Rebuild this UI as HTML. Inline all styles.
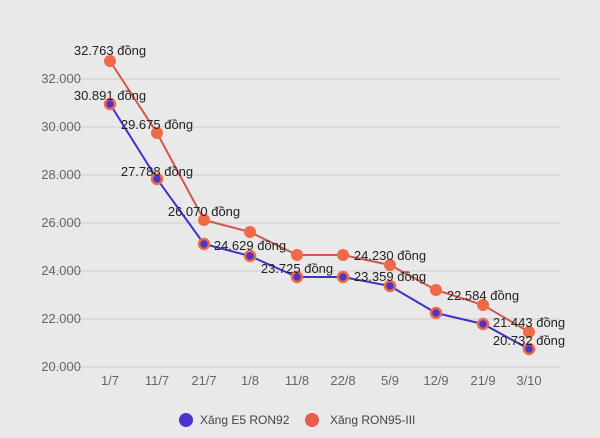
<!DOCTYPE html><html><head><meta charset="utf-8"><style>body{margin:0;background:#eae9ea}svg{display:block;font-family:"Liberation Sans",sans-serif}</style></head><body>
<svg width="600" height="438" viewBox="0 0 600 438">
<rect width="600" height="438" fill="#eae9ea"/>
<g stroke="#cfcfcf" stroke-width="1">
<line x1="42" x2="560" y1="79" y2="79"/><line x1="42" x2="560" y1="127" y2="127"/><line x1="42" x2="560" y1="175" y2="175"/><line x1="42" x2="560" y1="223" y2="223"/><line x1="42" x2="560" y1="271" y2="271"/><line x1="42" x2="560" y1="319" y2="319"/><line x1="42" x2="560" y1="367" y2="367"/></g>
<g fill="#666" font-size="13" text-anchor="end">
<text x="81" y="83">32.000</text><text x="81" y="131">30.000</text><text x="81" y="179">28.000</text><text x="81" y="227">26.000</text><text x="81" y="275">24.000</text><text x="81" y="323">22.000</text><text x="81" y="371">20.000</text></g>
<g fill="#666" font-size="13" text-anchor="middle">
<text x="110" y="385">1/7</text><text x="157" y="385">11/7</text><text x="204" y="385">21/7</text><text x="250" y="385">1/8</text><text x="297" y="385">11/8</text><text x="343" y="385">22/8</text><text x="390" y="385">5/9</text><text x="436" y="385">12/9</text><text x="483" y="385">21/9</text><text x="529" y="385">3/10</text></g>
<polyline fill="none" stroke="#d0584f" stroke-width="2" points="110,61 157,133 204,220 250,232 297,255 343,255 390,265 436,290 483,305 529,332"/>
<polyline fill="none" stroke="#3d33c8" stroke-width="2" points="110,104 157,179 204,244 250,256 297,277 343,277 390,286 436,313 483,324 529,349"/>
<g fill="#f26a45">
<circle cx="110" cy="61" r="6"/><circle cx="157" cy="133" r="6"/><circle cx="204" cy="220" r="6"/><circle cx="250" cy="232" r="6"/><circle cx="297" cy="255" r="6"/><circle cx="343" cy="255" r="6"/><circle cx="390" cy="265" r="6"/><circle cx="436" cy="290" r="6"/><circle cx="483" cy="305" r="6"/><circle cx="529" cy="332" r="6"/></g>
<g fill="#4a36c8" stroke="#f26a45" stroke-width="2.5">
<circle cx="110" cy="104" r="5"/><circle cx="157" cy="179" r="5"/><circle cx="204" cy="244" r="5"/><circle cx="250" cy="256" r="5"/><circle cx="297" cy="277" r="5"/><circle cx="343" cy="277" r="5"/><circle cx="390" cy="286" r="5"/><circle cx="436" cy="313" r="5"/><circle cx="483" cy="324" r="5"/><circle cx="529" cy="349" r="5"/></g>
<g fill="#222" font-size="13" text-anchor="middle">
<text x="110" y="55">32.763 đồng</text><text x="110" y="100">30.891 đồng</text><text x="157" y="129">29.675 đồng</text><text x="157" y="176">27.788 đồng</text><text x="204" y="216">26.070 đồng</text><text x="250" y="250">24.629 đồng</text><text x="297" y="273">23.725 đồng</text><text x="390" y="260">24.230 đồng</text><text x="390" y="281">23.359 đồng</text><text x="483" y="300">22.584 đồng</text></g>
<svg x="0" y="0" width="565" height="438"><g fill="#222" font-size="13" text-anchor="middle"><text x="529" y="327">21.443 đồng</text><text x="529" y="345">20.732 đồng</text></g></svg>
<circle cx="186" cy="420" r="7" fill="#4a36c8"/><text x="200" y="424" font-size="12" fill="#444">Xăng E5 RON92</text>
<circle cx="312" cy="420" r="7" fill="#e85c4c"/><text x="330" y="424" font-size="12" fill="#444">Xăng RON95-III</text>
</svg></body></html>
